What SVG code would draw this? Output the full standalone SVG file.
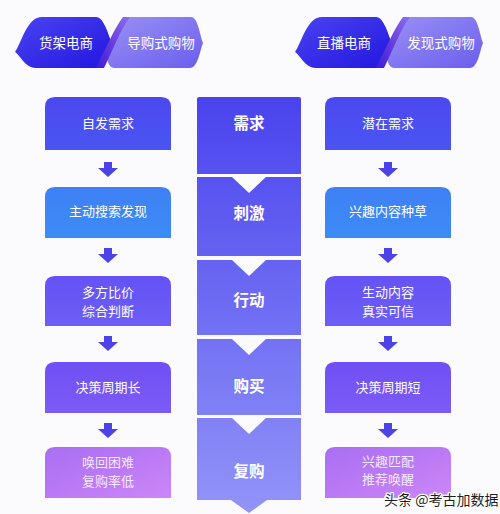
<svg xmlns="http://www.w3.org/2000/svg" width="500" height="514" viewBox="0 0 500 514">
<defs>
<linearGradient id="gDark" x1="0" y1="0" x2="1" y2="1">
<stop offset="0" stop-color="#4a44f2"/><stop offset="1" stop-color="#2216de"/>
</linearGradient>
<linearGradient id="gLight" x1="0" y1="0" x2="1" y2="1">
<stop offset="0" stop-color="#9a90f4"/><stop offset="1" stop-color="#6a5eee"/>
</linearGradient>
<linearGradient id="gTwist" x1="0" y1="1" x2="1" y2="0">
<stop offset="0" stop-color="#3a1cd8"/><stop offset="0.5" stop-color="#6a3ee0"/><stop offset="1" stop-color="#8a70ee"/>
</linearGradient>
<linearGradient id="gMid" gradientUnits="userSpaceOnUse" x1="0" y1="97" x2="0" y2="513">
<stop offset="0" stop-color="#4943ee"/><stop offset="1" stop-color="#9294f8"/>
</linearGradient>
<linearGradient id="gB1" x1="0" y1="0" x2="0" y2="1"><stop offset="0" stop-color="#4c48f0"/><stop offset="1" stop-color="#4a55f2"/></linearGradient>
<linearGradient id="gB2" x1="0" y1="0" x2="0" y2="1"><stop offset="0" stop-color="#3f80f5"/><stop offset="1" stop-color="#3b8cf6"/></linearGradient>
<linearGradient id="gB3" x1="0" y1="0" x2="0" y2="1"><stop offset="0" stop-color="#6552f5"/><stop offset="1" stop-color="#6c5ef6"/></linearGradient>
<linearGradient id="gB4" x1="0" y1="0" x2="0" y2="1"><stop offset="0" stop-color="#714ff4"/><stop offset="1" stop-color="#7a5cf6"/></linearGradient>
<linearGradient id="gB5" x1="0" y1="0" x2="1" y2="1"><stop offset="0" stop-color="#a96ef3"/><stop offset="1" stop-color="#cc86f7"/></linearGradient>
<path id="arrow" d="M-4,0 L4,0 L4,6 L10,6 L0,15 L-10,6 L-4,6 Z"/>
<g id="header">
<path d="M15,52 C22,42 27,17 42,17 L96,17 C104,17 109,36 112,44 C108,55 106,68 98,68 L36,68 C25,68 21,56 15,52 Z" fill="url(#gDark)"/>
<path d="M108,52 C113,40 117,17 128,17 L191,17 C198,17 200,36 203,43 C200,50 198,68 190,68 L114,68 C108,68 106,58 108,52 Z" fill="url(#gLight)"/>
<path d="M95,68 C106,50 113,30 123,17 L130,17 C120,30 113,50 104,68 Z" fill="url(#gTwist)"/>
</g>
</defs>
<style>
.t{font-family:"Noto Sans CJK SC","Noto Sans",sans-serif;fill:#fff;text-anchor:middle;}
.h{font-size:13.5px;}
.b{font-size:13px;}
.m{font-size:15.5px;font-weight:bold;}
.arr{fill:#4c42e8;}
.notch{fill:#fbfbfe;}
</style>
<rect x="0" y="0" width="500" height="514" fill="#fbfbfe"/>

<g id="header-left">
<use href="#header"/>
<text class="t h" x="66" y="48">货架电商</text>
<text class="t h" x="161" y="48">导购式购物</text>
</g>
<g id="header-right">
<use href="#header" transform="translate(280,0)"/>
<text class="t h" x="344" y="48">直播电商</text>
<text class="t h" x="441" y="48">发现式购物</text>
</g>

<g id="middle">
<g id="m1"><path d="M197,99 Q197,97 199,97 L299,97 Q301,97 301,99 L301,174 L197,174 Z" fill="url(#gMid)"/><text class="t m" x="249" y="129">需求</text></g>
<g id="m2"><rect x="197" y="177" width="104" height="79" fill="url(#gMid)"/><path class="notch" d="M232,177 L266,177 L249,193 Z"/><text class="t m" x="249" y="219">刺激</text></g>
<g id="m3"><rect x="197" y="260" width="104" height="75" fill="url(#gMid)"/><path class="notch" d="M232,260 L266,260 L249,276 Z"/><text class="t m" x="249" y="306">行动</text></g>
<g id="m4"><rect x="197" y="339" width="104" height="76" fill="url(#gMid)"/><path class="notch" d="M232,339 L266,339 L249,355 Z"/><text class="t m" x="249" y="392">购买</text></g>
<g id="m5"><path d="M197,418 L301,418 L301,500 L267,500 L249,513 L231,500 L197,500 Z" fill="url(#gMid)"/><path class="notch" d="M232,418 L266,418 L249,434 Z"/><text class="t m" x="249" y="477">复购</text></g>
</g>

<g id="left">
<g id="l1"><path d="M45,107 Q45,97 55,97 L161,97 Q171,97 171,107 L171,150 L45,150 Z" fill="url(#gB1)"/><text class="t b" x="108" y="128">自发需求</text></g>
<g id="l2"><path d="M45,197 Q45,187 55,187 L161,187 Q171,187 171,197 L171,238 L45,238 Z" fill="url(#gB2)"/><text class="t b" x="108" y="216">主动搜索发现</text></g>
<g id="l3"><path d="M45,286 Q45,276 55,276 L161,276 Q171,276 171,286 L171,326 L45,326 Z" fill="url(#gB3)"/><text class="t b" x="108" y="297">多方比价</text><text class="t b" x="108" y="316">综合判断</text></g>
<g id="l4"><path d="M45,372 Q45,362 55,362 L161,362 Q171,362 171,372 L171,413 L45,413 Z" fill="url(#gB4)"/><text class="t b" x="108" y="392">决策周期长</text></g>
<g id="l5"><path d="M45,457 Q45,447 55,447 L161,447 Q171,447 171,457 L171,498 L45,498 Z" fill="url(#gB5)"/><text class="t b" x="108" y="467" fill-opacity="0.85">唤回困难</text><text class="t b" x="108" y="486" fill-opacity="0.85">复购率低</text></g>
</g>

<g id="right">
<g id="r1"><path d="M325,107 Q325,97 335,97 L441,97 Q451,97 451,107 L451,150 L325,150 Z" fill="url(#gB1)"/><text class="t b" x="388" y="128">潜在需求</text></g>
<g id="r2"><path d="M325,197 Q325,187 335,187 L441,187 Q451,187 451,197 L451,238 L325,238 Z" fill="url(#gB2)"/><text class="t b" x="388" y="216">兴趣内容种草</text></g>
<g id="r3"><path d="M325,286 Q325,276 335,276 L441,276 Q451,276 451,286 L451,326 L325,326 Z" fill="url(#gB3)"/><text class="t b" x="388" y="297">生动内容</text><text class="t b" x="388" y="316">真实可信</text></g>
<g id="r4"><path d="M325,372 Q325,362 335,362 L441,362 Q451,362 451,372 L451,413 L325,413 Z" fill="url(#gB4)"/><text class="t b" x="388" y="392">决策周期短</text></g>
<g id="r5"><path d="M325,457 Q325,447 335,447 L441,447 Q451,447 451,457 L451,498 L325,498 Z" fill="url(#gB5)"/><text class="t b" x="388" y="466" fill-opacity="0.85">兴趣匹配</text><text class="t b" x="388" y="484" fill-opacity="0.85">推荐唤醒</text></g>
</g>

<g id="connectors" class="arr">
<use href="#arrow" x="108" y="162"/>
<use href="#arrow" x="108" y="248"/>
<use href="#arrow" x="108" y="336"/>
<use href="#arrow" x="108" y="423"/>
<use href="#arrow" x="388" y="162"/>
<use href="#arrow" x="388" y="248"/>
<use href="#arrow" x="388" y="336"/>
<use href="#arrow" x="388" y="423"/>
</g>

<text x="384" y="505" font-family="Noto Sans CJK SC, sans-serif" font-size="14" fill="#1e1e1e" stroke="#ffffff" stroke-width="2.5" paint-order="stroke" stroke-linejoin="round">头条 @考古加数据</text>
</svg>
